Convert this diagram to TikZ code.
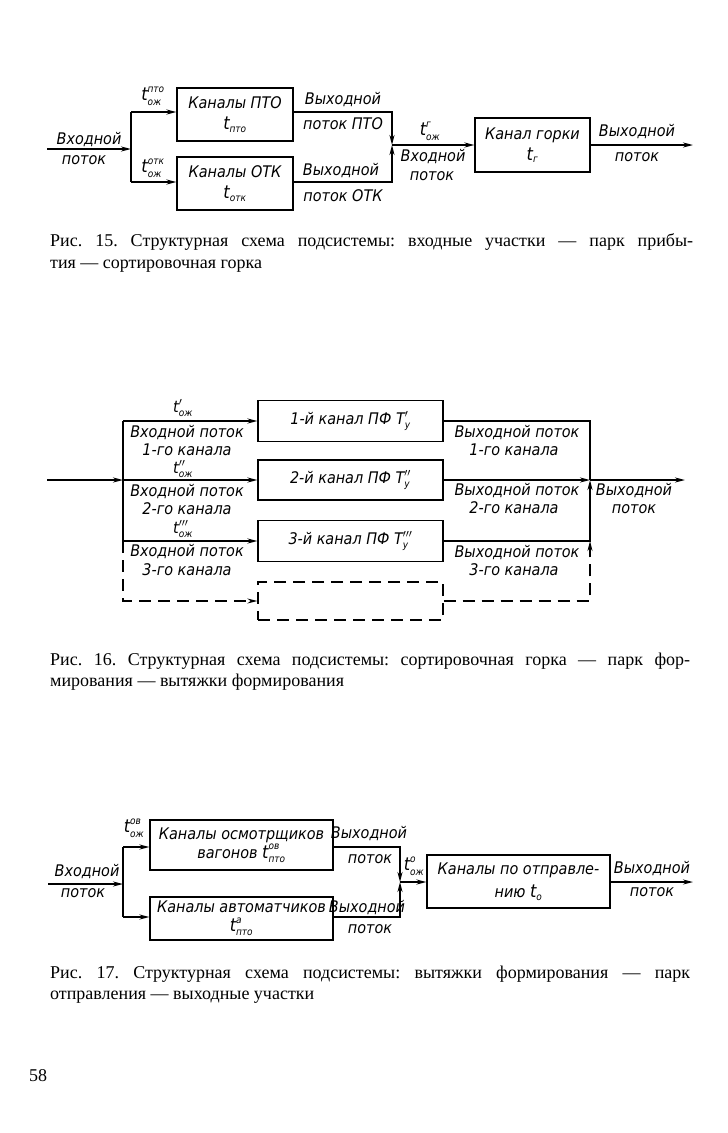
\documentclass[tikz,border=0pt]{standalone}
\usepackage{fontspec}
\setmainfont{Liberation Serif}
\newfontfamily\gost[FakeStretch=0.9]{DejaVu Sans}
\usetikzlibrary{arrows.meta}
\newcommand\subsz{\fontsize{10}{10}\selectfont}
\newcommand\tbig{\fontsize{18}{18}\selectfont}
\newcommand\tmid{\fontsize{16}{16}\selectfont}
\newcommand\tvar[3]{${\mbox{\tbig #1}}^{\mbox{\subsz #3}}_{\mbox{\subsz #2}}$}
\newcommand\tsub[2]{${\mbox{\tbig #1}}_{\mbox{\subsz #2}}$}
\newcommand\tpr[3]{${\mbox{\tmid #1}}^{#3}_{\mbox{\subsz #2}}$}
\begin{document}
\frenchspacing
\begin{tikzpicture}[x=1pt,y=-1pt,
  lbl/.style={font=\gost\itshape\fontsize{16}{18}\selectfont, inner sep=0pt},
  blk/.style={draw, line width=1.1pt, font=\gost\itshape\fontsize{16}{21}\selectfont, align=center, inner sep=0pt},
  capt/.style={font=\fontsize{18}{22}\selectfont, inner sep=0pt, anchor=base west},
  conn/.style={line width=1.6pt},
  arr/.style={conn, -{Stealth[length=10pt,width=5pt]}},
  dsh/.style={line width=1.3pt, dash pattern=on 12pt off 7pt},
  darr/.style={dsh, -{Stealth[length=10pt,width=5pt]}},
]
\useasboundingbox (0,0) rectangle (728,1133);
\fill[white] (0,0) rectangle (728,1133);

% ---------------- Fig. 15 ----------------
\node[blk, minimum width=116pt, minimum height=53pt] (k15a) at (235,114.5) {Каналы ПТО\\ \tsub{t}{пто}};
\node[blk, minimum width=116pt, minimum height=53pt] (k15b) at (235,183.5) {Каналы ОТК\\ \tsub{t}{отк}};
\node[blk, minimum width=115pt, minimum height=54pt] (k15c) at (532.5,145) {Канал горки\\ \tsub{t}{г}};
\coordinate (s15) at (47,149);
\coordinate (j15) at (131,149);
\coordinate (j15a) at (131,112);
\coordinate (j15b) at (131,182);
\coordinate (m15a) at (392,112);
\coordinate (m15) at (392,145);
\coordinate (m15b) at (392,182);
\coordinate (e15) at (693,145);
\draw[arr] (s15) -- (j15);
\draw[conn] (j15a) -- (j15b);
\draw[arr] (j15a) -- (j15a -| k15a.west);
\draw[arr] (j15b) -- (j15b -| k15b.west);
\draw[arr] (k15a.east |- m15a) -- (m15a) -- (m15);
\draw[arr] (k15b.east |- m15b) -- (m15b) -- (m15);
\draw[arr] (m15) -- (k15c.west);
\draw[arr] (k15c.east) -- (e15);
\node[lbl] (a1) at (89,140) {Входной};
\node[lbl] (a2) at (84,160) {поток};
\node[lbl] (a3) at (153,96) {\tvar{t}{ож}{пто}};
\node[lbl] (a4) at (153,168) {\tvar{t}{ож}{отк}};
\node[lbl] (a5) at (343,100) {Выходной};
\node[lbl] (a6) at (343,124) {поток ПТО};
\node[lbl] (a7) at (341,171) {Выходной};
\node[lbl] (a8) at (343,196) {поток ОТК};
\node[lbl] (a9) at (430,131) {\tvar{t}{ож}{г}};
\node[lbl] (a10) at (433,157) {Входной};
\node[lbl] (a11) at (432,176) {поток};
\node[lbl] (a12) at (637,132) {Выходной};
\node[lbl] (a13) at (637,157) {поток};
\node[capt] (c15a) at (50,246) {\makebox[643pt][s]{Рис. 15. Структурная схема подсистемы: входные участки — парк прибы-}};
\node[capt] (c15b) at (50,268) {тия — сортировочная горка};

% ---------------- Fig. 16 ----------------
\node[blk, minimum width=185pt, minimum height=41pt] (p1) at (350.5,421) {1-й канал ПФ \tpr{T}{у}{\prime}};
\node[blk, minimum width=185pt, minimum height=40pt] (p2) at (350.5,480) {2-й канал ПФ \tpr{T}{у}{\prime\prime}};
\node[blk, minimum width=185pt, minimum height=41pt] (p3) at (350.5,541) {3-й канал ПФ \tpr{T}{у}{\prime\prime\prime}};
\node[blk, dsh, minimum width=185pt, minimum height=38pt] (p4) at (350.5,601) {};
\coordinate (s16) at (47,480);
\coordinate (j16) at (123,480);
\coordinate (j16a) at (123,421);
\coordinate (j16c) at (123,541);
\coordinate (j16d) at (123,601);
\coordinate (k1) at (590,421);
\coordinate (k2) at (590,480);
\coordinate (k3) at (590,541);
\coordinate (k4) at (590,601);
\coordinate (e16) at (685,480);
\draw[arr] (s16) -- (j16);
\draw[conn] (j16a) -- (j16c);
\draw[arr] (j16a) -- (j16a -| p1.west);
\draw[arr] (j16) -- (j16 -| p2.west);
\draw[arr] (j16c) -- (j16c -| p3.west);
\draw[darr] (j16c) -- (j16d) -- (j16d -| p4.west);
\draw[conn] (p1.east |- k1) -- (k1) -- (k2);
\draw[arr] (p2.east |- k2) -- (k2);
\draw[arr] (k2) -- (e16);
\draw[arr] (p3.east |- k3) -- (k3) -- (k2);
\draw[darr] (p4.east |- k4) -- (k4) -- (k3);
\node[lbl] (b1) at (183,408) {\tpr{t}{ож}{\prime}};
\node[lbl] (b2) at (187,433) {Входной поток};
\node[lbl] (b3) at (187,450) {1-го канала};
\node[lbl] (b4) at (183,469) {\tpr{t}{ож}{\prime\prime}};
\node[lbl] (b5) at (187,492) {Входной поток};
\node[lbl] (b6) at (187,509) {2-го канала};
\node[lbl] (b7) at (183,529) {\tpr{t}{ож}{\prime\prime\prime}};
\node[lbl] (b8) at (187,552) {Входной поток};
\node[lbl] (b9) at (187,570) {3-го канала};
\node[lbl] (b10) at (517,433) {Выходной поток};
\node[lbl] (b11) at (514,450) {1-го канала};
\node[lbl] (b12) at (517,491) {Выходной поток};
\node[lbl] (b13) at (514,508) {2-го канала};
\node[lbl] (b14) at (517,553) {Выходной поток};
\node[lbl] (b15) at (514,570) {3-го канала};
\node[lbl] (b16) at (634,491) {Выходной};
\node[lbl] (b17) at (634,509) {поток};
\node[capt] (c16a) at (50,665) {\makebox[640pt][s]{Рис. 16. Структурная схема подсистемы: сортировочная горка — парк фор-}};
\node[capt] (c16b) at (50,686) {мирования — вытяжки формирования};

% ---------------- Fig. 17 ----------------
\node[blk, font=\gost\itshape\fontsize{16}{19}\selectfont, minimum width=183pt, minimum height=50pt] (q1) at (241.5,845) {Каналы осмотрщиков\\вагонов \tvar{t}{пто}{ов}};
\node[blk, font=\gost\itshape\fontsize{16}{19}\selectfont, minimum width=183pt, minimum height=43pt] (q2) at (241.5,918.5) {Каналы автоматчиков\\\tvar{t}{пто}{а}};
\node[blk, font=\gost\itshape\fontsize{16}{23}\selectfont, minimum width=183pt, minimum height=53pt] (q3) at (518.5,881.5) {Каналы по отправле-\\нию \tsub{t}{о}};
\coordinate (s17) at (48,884);
\coordinate (j17) at (123,884);
\coordinate (j17a) at (123,847);
\coordinate (j17b) at (123,917);
\coordinate (m17a) at (400,847);
\coordinate (m17) at (400,882);
\coordinate (m17b) at (400,917);
\coordinate (e17) at (693,882);
\draw[arr] (s17) -- (j17);
\draw[conn] (j17a) -- (j17b);
\draw[arr] (j17a) -- (j17a -| q1.west);
\draw[arr] (j17b) -- (j17b -| q2.west);
\draw[arr] (q1.east |- m17a) -- (m17a) -- (m17);
\draw[arr] (q2.east |- m17b) -- (m17b) -- (m17);
\draw[arr] (m17) -- (m17 -| q3.west);
\draw[arr] (q3.east |- e17) -- (e17);
\node[lbl] (d1) at (87,872) {Входной};
\node[lbl] (d2) at (83,893) {поток};
\node[lbl] (d3) at (134,828) {\tvar{t}{ож}{ов}};
\node[lbl] (d4) at (369,834) {Выходной};
\node[lbl] (d5) at (370,859) {поток};
\node[lbl] (d6) at (367,908) {Выходной};
\node[lbl] (d7) at (370,929) {поток};
\node[lbl] (d8) at (414,866) {\tvar{t}{ож}{о}};
\node[lbl] (d9) at (652,869) {Выходной};
\node[lbl] (d10) at (652,892) {поток};
\node[capt] (c17a) at (50,978) {\makebox[640pt][s]{Рис. 17. Структурная схема подсистемы: вытяжки формирования — парк}};
\node[capt] (c17b) at (50,999) {отправления — выходные участки};

\node[capt] (pg) at (29,1081) {58};
\end{tikzpicture}
\end{document}
